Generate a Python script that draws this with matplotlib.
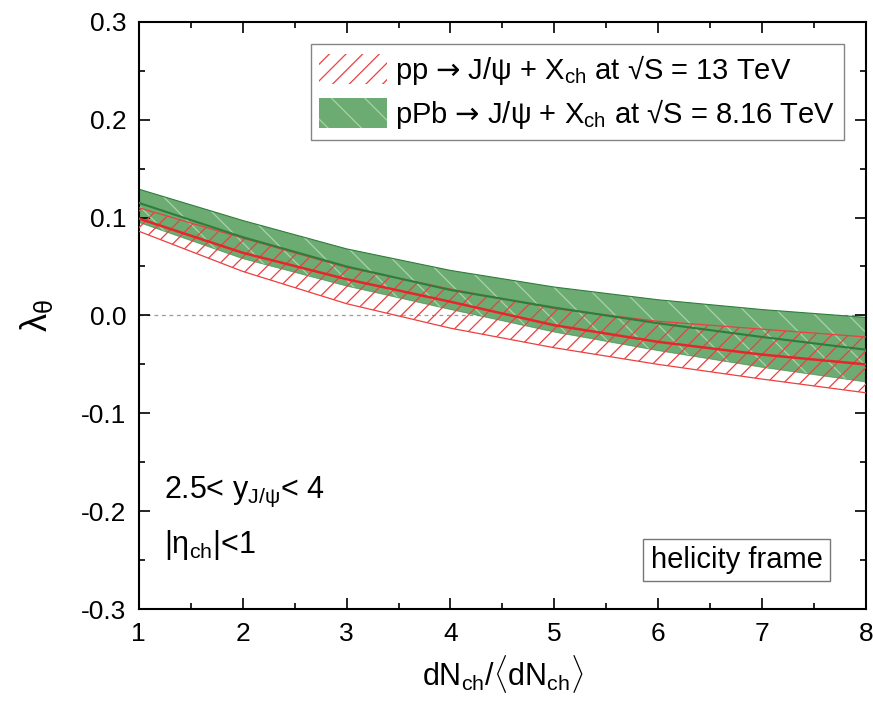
import matplotlib
matplotlib.use("Agg")
import matplotlib.pyplot as plt
from matplotlib.patches import Patch
from matplotlib.ticker import MultipleLocator

plt.rcParams["font.family"] = ["Liberation Sans", "DejaVu Sans"]
plt.rcParams["mathtext.fontset"] = "custom"
plt.rcParams["mathtext.rm"] = "Liberation Sans"
plt.rcParams["mathtext.it"] = "Liberation Sans:italic"
plt.rcParams["mathtext.sf"] = "DejaVu Sans"
plt.rcParams["hatch.linewidth"] = 0.9

# dN_ch / <dN_ch>
mult = [1, 2, 3, 4, 5, 6, 7, 8]

# pp -> J/psi + X_ch, sqrt(S) = 13 TeV
pp_up = [0.110, 0.079, 0.049, 0.027, 0.007, -0.006, -0.014, -0.022]
pp_mid = [0.099, 0.064, 0.037, 0.014, -0.010, -0.027, -0.040, -0.050]
pp_lo = [0.086, 0.045, 0.012, -0.013, -0.033, -0.050, -0.065, -0.079]

# pPb -> J/psi + X_ch, sqrt(S) = 8.16 TeV
ppb_up = [0.129, 0.097, 0.068, 0.046, 0.029, 0.016, 0.006, -0.002]
ppb_mid = [0.115, 0.080, 0.050, 0.026, 0.008, -0.008, -0.022, -0.035]
ppb_lo = [0.095, 0.058, 0.030, 0.006, -0.017, -0.036, -0.053, -0.068]

legend_labels = [
    "pp $\\mathsf{\u2192}$ J/$\\mathrm{\\psi}$ + X$_{\\mathrm{ch}}$ at \u221aS = 13 TeV",
    "pPb $\\mathsf{\u2192}$ J/$\\mathrm{\\psi}$ + X$_{\\mathrm{ch}}$ at \u221aS = 8.16 TeV",
]

green = "#6cab72"
dgreen = "#2f7d3c"
red = "#e8262a"
hatch_red = "#ec4040"

fig = plt.figure(figsize=(8.73, 7.01), dpi=100)
ax = fig.add_axes([0.159, 0.131, 0.833, 0.838])

ax.axhline(0, color="#999999", ls=(0, (3, 3)), lw=0.9, zorder=0)

# pPb band (filled, faint hatch)
ax.fill_between(mult, ppb_lo, ppb_up, facecolor=green, edgecolor="#a8d2ac",
                hatch="\\", lw=0, zorder=1)
ax.plot(mult, ppb_up, color=dgreen, lw=0.8, zorder=2)
ax.plot(mult, ppb_lo, color=dgreen, lw=0.6, zorder=2, alpha=0.6)
ax.plot(mult, ppb_mid, color=dgreen, lw=1.5, zorder=4)

# pp band (red hatch only)
ax.fill_between(mult, pp_lo, pp_up, facecolor="none", edgecolor=hatch_red,
                hatch="//", lw=0, zorder=3)
ax.plot(mult, pp_up, color=hatch_red, lw=0.9, zorder=3)
ax.plot(mult, pp_lo, color=hatch_red, lw=0.9, zorder=3)
ax.plot(mult, pp_mid, color=red, lw=1.8, zorder=4)

ax.set_xlim(1, 8)
ax.set_ylim(-0.3, 0.3)
ax.xaxis.set_major_locator(MultipleLocator(1))
ax.xaxis.set_minor_locator(MultipleLocator(0.5))
ax.yaxis.set_minor_locator(MultipleLocator(0.05))
ax.set_yticks([-0.3, -0.2, -0.1, 0.0, 0.1, 0.2, 0.3])
ax.set_yticklabels(["-0.3", "-0.2", "-0.1", "0.0", "0.1", "0.2", "0.3"])
ax.tick_params(which="both", direction="in", top=True, right=True,
               labelsize=19, width=1.2)
ax.tick_params(which="major", length=8, pad=9)
ax.tick_params(which="minor", length=4)
for sp in ax.spines.values():
    sp.set_linewidth(1.5)

ax.set_xlabel(r"dN$_{\mathrm{ch}}$/$\langle$dN$_{\mathrm{ch}}\rangle$",
              fontsize=22)
ax.xaxis.set_label_coords(0.5, -0.075)
ax.set_ylabel(r"$\mathrm{\lambda_{\theta}}$", fontsize=26)
ax.yaxis.set_label_coords(-0.115, 0.5)

handles = [
    Patch(facecolor="white", edgecolor=hatch_red, hatch="//", lw=0),
    Patch(facecolor=green, edgecolor="#a8d2ac", hatch="\\", lw=0),
]
leg = ax.legend(handles, legend_labels, loc="upper right", fontsize=21,
                frameon=True, fancybox=False, edgecolor="#666666",
                handlelength=2.3, handleheight=1.2, borderpad=0.3,
                labelspacing=0.35, handletextpad=0.3, borderaxespad=0,
                bbox_to_anchor=(0.97, 0.962))
leg.get_frame().set_linewidth(1.0)

ax.text(0.035, 0.19, r"2.5< y$_{\mathrm{J/\psi}}$< 4", transform=ax.transAxes,
        fontsize=22, ha="left", va="baseline")
ax.text(0.035, 0.095, r"|$\mathrm{\eta}_{\mathrm{ch}}$|<1", transform=ax.transAxes,
        fontsize=22, ha="left", va="baseline")
ax.text(0.94, 0.06, "helicity frame", transform=ax.transAxes, fontsize=21,
        ha="right", va="bottom",
        bbox=dict(boxstyle="square,pad=0.25", facecolor="white",
                  edgecolor="#777777", lw=1.0))

fig.savefig("out.png", dpi=100)
